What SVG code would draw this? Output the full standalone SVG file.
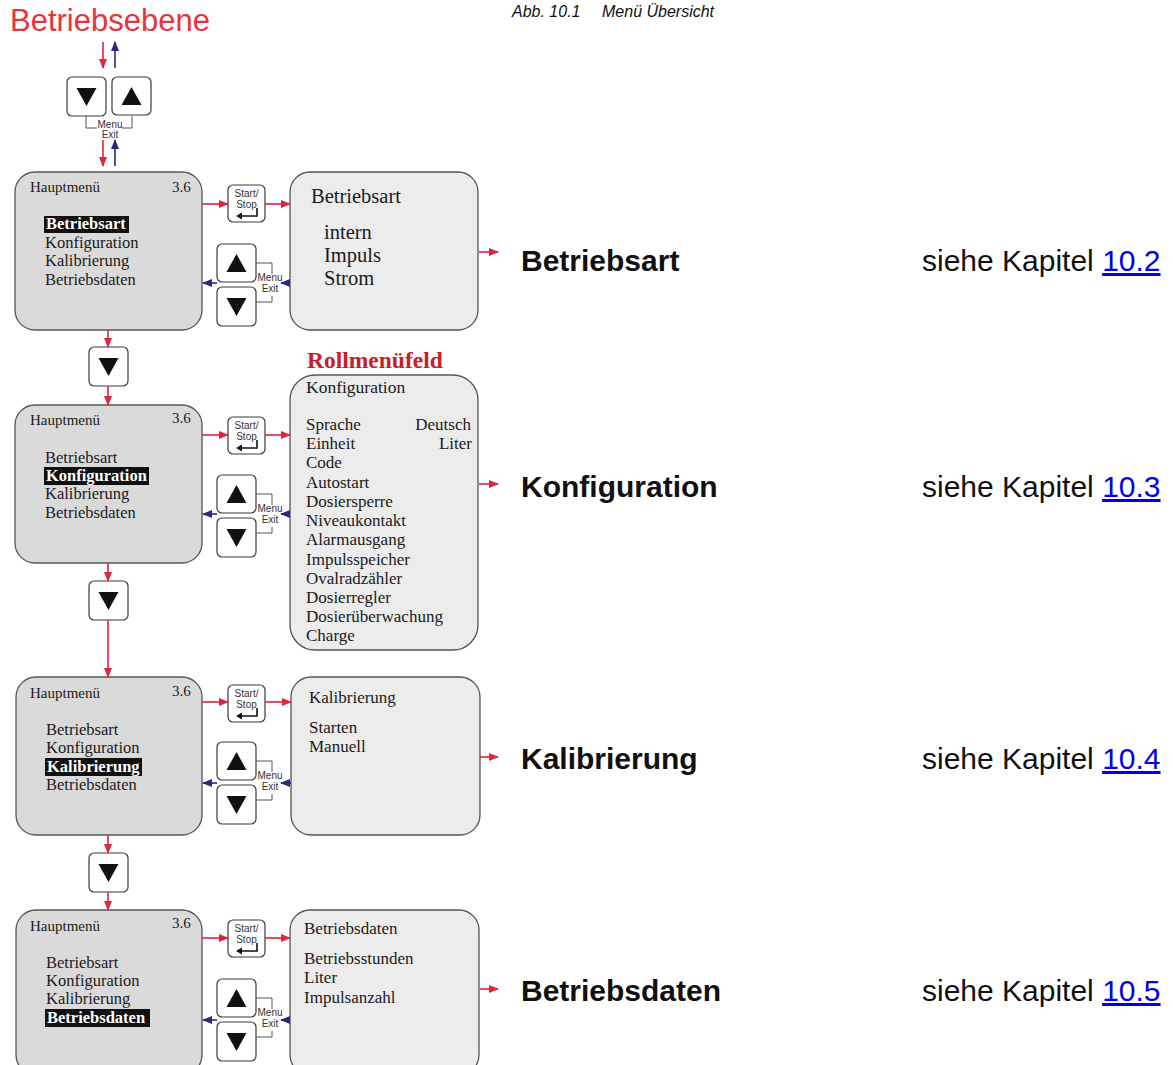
<svg xmlns="http://www.w3.org/2000/svg" xmlns:xlink="http://www.w3.org/1999/xlink" width="1173" height="1065" viewBox="0 0 1173 1065">
<style>
.serif{font-family:"Liberation Serif","Times New Roman",serif;fill:#1a1a1a}
.sans{font-family:"Liberation Sans",Arial,sans-serif}
.mp{fill:#dadada;stroke:#555;stroke-width:1.3}
.sp{fill:#ececec;stroke:#555;stroke-width:1.3}
.btn{fill:#fff;stroke:#3a3a3a;stroke-width:1.2}
.tri{fill:#111}
.brk{fill:none;stroke:#555;stroke-width:1}
.key{font-family:"Liberation Sans",Arial,sans-serif;font-size:10px;fill:#333;text-anchor:middle}
.red{stroke:#e0243c;stroke-width:1.6;fill:none}
.blue{stroke:#2a2a7c;stroke-width:1.6;fill:none}
.hl{fill:#111}
.hlt{font-family:"Liberation Serif","Times New Roman",serif;font-weight:bold;fill:#fff;font-size:16.5px}
.it{font-size:16.5px}
.hd{font-size:15px}
.lbl{font-family:"Liberation Sans",Arial,sans-serif;font-weight:bold;font-size:30px;fill:#111}
.ref{font-family:"Liberation Sans",Arial,sans-serif;font-size:30px;fill:#111}
.lnk{fill:#0000ee;text-decoration:underline}
</style>
<defs>
<marker id="ar" viewBox="0 0 10 8" refX="9" refY="4" markerWidth="10" markerHeight="8" markerUnits="userSpaceOnUse" orient="auto"><path d="M0 0L10 4L0 8Z" fill="#e0243c"/></marker>
<marker id="ab" viewBox="0 0 10 8" refX="9" refY="4" markerWidth="10" markerHeight="8" markerUnits="userSpaceOnUse" orient="auto"><path d="M0 0L10 4L0 8Z" fill="#2a2a7c"/></marker>
<g id="bDown"><rect class="btn" x="0" y="0" width="39" height="39" rx="5"/><path class="tri" d="M9.5 11H29.5L19.5 29Z"/></g>
<g id="bUp"><rect class="btn" x="0" y="0" width="39" height="38" rx="5"/><path class="tri" d="M9.5 28H29.5L19.5 10Z"/></g>
<g id="ss"><rect class="btn" x="0" y="0" width="37" height="37" rx="5"/><text class="key" x="18.5" y="12">Start/</text><text class="key" x="18.5" y="23">Stop</text><path d="M29 23V31H13" fill="none" stroke="#111" stroke-width="1.6"/><path d="M8 31L14 27.5V34.5Z" fill="#111"/></g>
<g id="kp"><use xlink:href="#bUp" x="0" y="0"/><use xlink:href="#bDown" x="0" y="43"/><path class="brk" d="M39 19H55V30M55 52V58H39"/><text class="key" x="53" y="37">Menu</text><text class="key" x="53" y="48">Exit</text></g>
</defs>

<g id="header">
<text class="sans" x="10" y="31" font-size="31" fill="#e8323c">Betriebsebene</text>
<text class="sans" x="512" y="17" font-size="16" font-style="italic" fill="#111">Abb. 10.1<tspan x="602">Menü Übersicht</tspan></text>
</g>

<g id="topKeys">
<use xlink:href="#bDown" x="67" y="77"/>
<use xlink:href="#bUp" x="112" y="77"/>
<path class="brk" d="M86 116V128H97M122 128H132V116"/>
<text class="key" x="110" y="128">Menu</text>
<text class="key" x="110" y="138">Exit</text>
</g>

<g id="main1">
<rect class="mp" x="15" y="172" width="187" height="158" rx="20"/>
<text class="serif hd" x="30" y="192">Hauptmenü</text><text class="serif hd" x="172" y="192">3.6</text>
<rect class="hl" x="44" y="216" width="85" height="17"/>
<text class="hlt" x="46" y="229">Betriebsart</text>
<text class="serif it" x="45" y="248">Konfiguration</text>
<text class="serif it" x="45" y="266">Kalibrierung</text>
<text class="serif it" x="45" y="285">Betriebsdaten</text>
</g>
<g id="ss1"><use xlink:href="#ss" x="228" y="185"/></g>
<g id="kp1"><use xlink:href="#kp" x="217" y="244"/></g>
<g id="betriebsart">
<rect class="sp" x="290" y="172" width="188" height="158" rx="20"/>
<text class="serif" x="311" y="203" font-size="20.5">Betriebsart</text>
<text class="serif" x="324" y="239" font-size="20.5">intern</text>
<text class="serif" x="324" y="262" font-size="20.5">Impuls</text>
<text class="serif" x="324" y="285" font-size="20.5">Strom</text>
</g>
<g id="label1"><text class="lbl" x="521" y="271">Betriebsart</text><text class="ref" x="922" y="271">siehe Kapitel <tspan class="lnk">10.2</tspan></text></g>

<g id="down1"><use xlink:href="#bDown" x="89" y="347"/></g>

<g id="main2">
<rect class="mp" x="15" y="405" width="187" height="158" rx="20"/>
<text class="serif hd" x="30" y="425">Hauptmenü</text><text class="serif hd" x="172" y="423">3.6</text>
<text class="serif it" x="45" y="463">Betriebsart</text>
<rect class="hl" x="44" y="467" width="105" height="18"/>
<text class="hlt" x="46" y="481">Konfiguration</text>
<text class="serif it" x="45" y="499">Kalibrierung</text>
<text class="serif it" x="45" y="518">Betriebsdaten</text>
</g>
<g id="ss2"><use xlink:href="#ss" x="228" y="417"/></g>
<g id="kp2"><use xlink:href="#kp" x="217" y="475"/></g>
<g id="konfiguration">
<text x="307" y="368" font-family="Liberation Serif,Times New Roman,serif" font-weight="bold" font-size="23.5" fill="#c8202a">Rollmenüfeld</text>
<rect class="sp" x="290" y="375" width="188" height="275" rx="25"/>
<text class="serif" x="306" y="393" font-size="17.5">Konfiguration</text>
<g class="serif" font-size="17">
<text x="306" y="430">Sprache</text>
<text x="306" y="449">Einheit</text>
<text x="306" y="468">Code</text>
<text x="306" y="488">Autostart</text>
<text x="306" y="507">Dosiersperre</text>
<text x="306" y="526">Niveaukontakt</text>
<text x="306" y="545">Alarmausgang</text>
<text x="306" y="565">Impulsspeicher</text>
<text x="306" y="584">Ovalradzähler</text>
<text x="306" y="603">Dosierregler</text>
<text x="306" y="622">Dosierüberwachung</text>
<text x="306" y="641">Charge</text>
<text x="471" y="430" text-anchor="end">Deutsch</text>
<text x="472" y="449" text-anchor="end">Liter</text>
</g>
</g>
<g id="label2"><text class="lbl" x="521" y="497">Konfiguration</text><text class="ref" x="922" y="497">siehe Kapitel <tspan class="lnk">10.3</tspan></text></g>

<g id="down2"><use xlink:href="#bDown" x="89" y="581"/></g>

<g id="main3">
<rect class="mp" x="16" y="677" width="186" height="158" rx="20"/>
<text class="serif hd" x="30" y="698">Hauptmenü</text><text class="serif hd" x="172" y="696">3.6</text>
<text class="serif it" x="46" y="735">Betriebsart</text>
<text class="serif it" x="46" y="753">Konfiguration</text>
<rect class="hl" x="45" y="758" width="97" height="18"/>
<text class="hlt" x="47" y="772">Kalibrierung</text>
<text class="serif it" x="46" y="790">Betriebsdaten</text>
</g>
<g id="ss3"><use xlink:href="#ss" x="228" y="685"/></g>
<g id="kp3"><use xlink:href="#kp" x="217" y="742"/></g>
<g id="kalibrierung">
<rect class="sp" x="291" y="677" width="189" height="158" rx="20"/>
<text class="serif" x="309" y="703" font-size="17">Kalibrierung</text>
<text class="serif" x="309" y="733" font-size="17">Starten</text>
<text class="serif" x="309" y="752" font-size="17">Manuell</text>
</g>
<g id="label3"><text class="lbl" x="521" y="769">Kalibrierung</text><text class="ref" x="922" y="769">siehe Kapitel <tspan class="lnk">10.4</tspan></text></g>

<g id="down3"><use xlink:href="#bDown" x="89" y="853"/></g>

<g id="main4">
<rect class="mp" x="16" y="910" width="186" height="165" rx="20"/>
<text class="serif hd" x="30" y="931">Hauptmenü</text><text class="serif hd" x="172" y="928">3.6</text>
<text class="serif it" x="46" y="968">Betriebsart</text>
<text class="serif it" x="46" y="986">Konfiguration</text>
<text class="serif it" x="46" y="1004">Kalibrierung</text>
<rect class="hl" x="45" y="1009" width="105" height="18"/>
<text class="hlt" x="47" y="1023">Betriebsdaten</text>
</g>
<g id="ss4"><use xlink:href="#ss" x="228" y="920"/></g>
<g id="kp4"><use xlink:href="#kp" x="217" y="979"/></g>
<g id="betriebsdaten">
<rect class="sp" x="290" y="910" width="189" height="165" rx="20"/>
<text class="serif" x="304" y="934" font-size="17">Betriebsdaten</text>
<text class="serif" x="304" y="964" font-size="17">Betriebsstunden</text>
<text class="serif" x="304" y="983" font-size="17">Liter</text>
<text class="serif" x="304" y="1003" font-size="17">Impulsanzahl</text>
</g>
<g id="label4"><text class="lbl" x="521" y="1001">Betriebsdaten</text><text class="ref" x="922" y="1001">siehe Kapitel <tspan class="lnk">10.5</tspan></text></g>

<g id="connectors">
<path class="red" d="M103 42V68" marker-end="url(#ar)"/>
<path class="blue" d="M115 68V42" marker-end="url(#ab)"/>
<path class="red" d="M103 140V166" marker-end="url(#ar)"/>
<path class="blue" d="M115 166V140" marker-end="url(#ab)"/>

<path class="red" d="M202 204H228" marker-end="url(#ar)"/>
<path class="red" d="M265 204H290" marker-end="url(#ar)"/>
<path class="blue" d="M217 283H203" marker-end="url(#ab)"/>
<path class="blue" d="M290 283H281" marker-end="url(#ab)"/>
<path class="red" d="M479 252H498" marker-end="url(#ar)"/>
<path class="red" d="M108 330V347" marker-end="url(#ar)"/>
<path class="red" d="M108 386V405" marker-end="url(#ar)"/>

<path class="red" d="M202 435H228" marker-end="url(#ar)"/>
<path class="red" d="M265 435H290" marker-end="url(#ar)"/>
<path class="blue" d="M217 514H203" marker-end="url(#ab)"/>
<path class="blue" d="M290 514H281" marker-end="url(#ab)"/>
<path class="red" d="M479 484H498" marker-end="url(#ar)"/>
<path class="red" d="M108 563V581" marker-end="url(#ar)"/>
<path class="red" d="M108 620V677" marker-end="url(#ar)"/>

<path class="red" d="M202 702H228" marker-end="url(#ar)"/>
<path class="red" d="M265 702H291" marker-end="url(#ar)"/>
<path class="blue" d="M217 783H203" marker-end="url(#ab)"/>
<path class="blue" d="M291 783H281" marker-end="url(#ab)"/>
<path class="red" d="M480 757H498" marker-end="url(#ar)"/>
<path class="red" d="M108 835V853" marker-end="url(#ar)"/>
<path class="red" d="M108 892V910" marker-end="url(#ar)"/>

<path class="red" d="M202 938H228" marker-end="url(#ar)"/>
<path class="red" d="M265 938H290" marker-end="url(#ar)"/>
<path class="blue" d="M217 1020H203" marker-end="url(#ab)"/>
<path class="blue" d="M290 1020H281" marker-end="url(#ab)"/>
<path class="red" d="M480 989H498" marker-end="url(#ar)"/>
</g>
</svg>
